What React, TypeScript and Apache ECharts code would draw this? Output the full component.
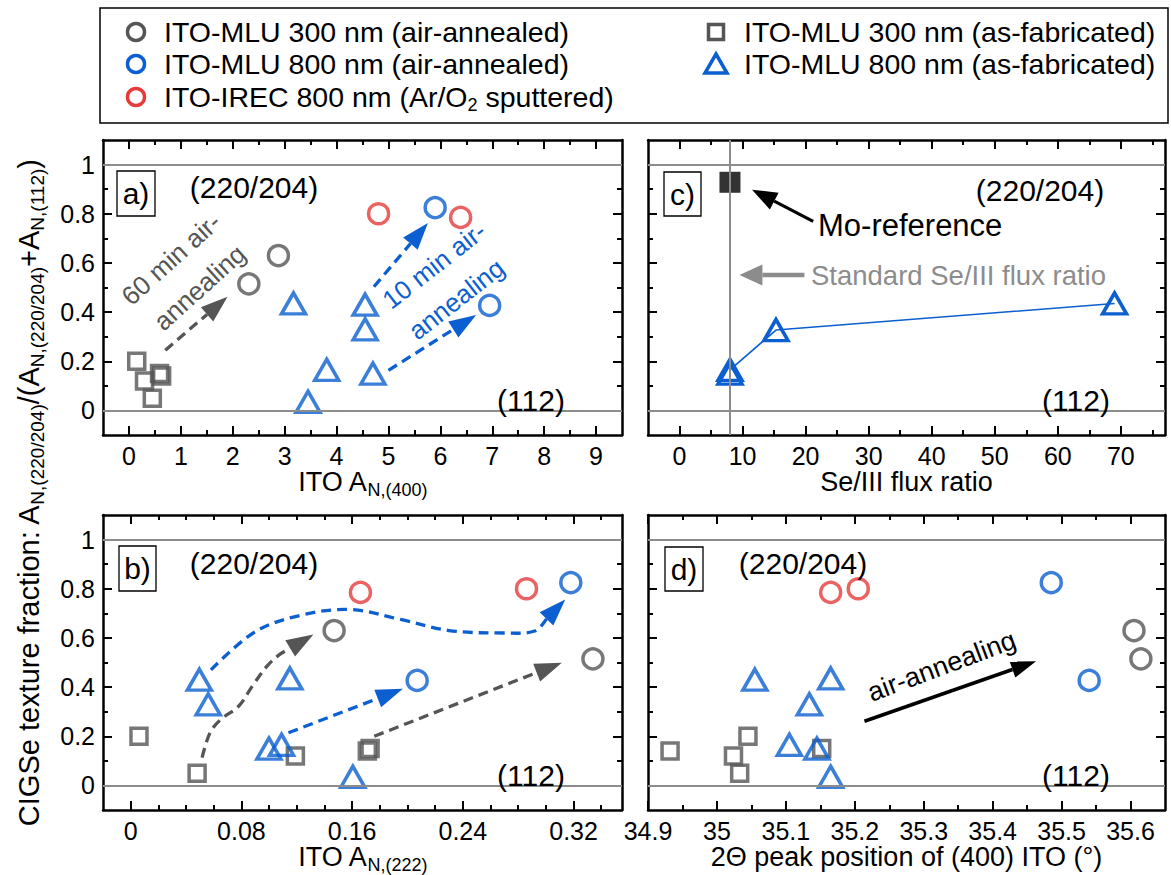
import React, { useEffect, useRef } from "react";
import * as echarts from "echarts";

const FONT = "'Liberation Sans', Arial, Helvetica, sans-serif";
const GRAY = "#555555";
const BLUE = "#0b5fd0";
const RED = "#e63b3b";
const REFGRAY = "#8c8c8c";

// ---------------- data ----------------
// y = CIGSe texture fraction, x per panel: A_N,(400) | A_N,(222) | 2Theta (400) ITO
const mlu300AnnealedFraction = [0.515, 0.63];
const mlu300AnnealedA400 = [2.31, 2.88];
const mlu300AnnealedA222 = [0.334, 0.147];
const mlu300AnnealedPeak = [35.615, 35.605];

const mlu800AnnealedFraction = [0.825, 0.427];
const mlu800AnnealedA400 = [5.9, 6.95];
const mlu800AnnealedA222 = [0.318, 0.207];
const mlu800AnnealedPeak = [35.485, 35.54];

const irecFraction = [0.8, 0.785];
const irecA400 = [4.81, 6.39];
const irecA222 = [0.286, 0.166];
const irecPeak = [35.205, 35.165];

const mlu300FabFraction = [0.2, 0.12, 0.05, 0.15, 0.14];
const mlu300FabA400 = [0.15, 0.3, 0.45, 0.59, 0.63];
const mlu300FabA222 = [0.006, 0.119, 0.048, 0.173, 0.171];
const mlu300FabPeak = [35.045, 35.024, 35.033, 35.152, 34.932];

const mlu800FabFraction = [0.435, 0.43, 0.33, 0.165, 0.15, 0.035];
const mlu800FabA400 = [3.17, 4.55, 4.55, 3.81, 4.7, 3.45];
const mlu800FabA222 = [0.115, 0.0496, 0.056, 0.109, 0.0999, 0.1605];
const mlu800FabPeak = [35.165, 35.055, 35.134, 35.105, 35.145, 35.165];

// panel c
const fluxRatio = [8, 8, 15.3, 69];
const fluxFraction = [0.15, 0.165, 0.327, 0.435];
const moRefFlux = [8];
const moRefFraction = [0.928];
const standardFlux = 8;
const refFractions = [0, 1];

// axis ranges and ticks
const fractionRange = [-0.1, 1.1];
const a400Range = [-0.5, 9.5];
const a222Range = [-0.02, 0.355];
const fluxRange = [-5, 77];
const peakRange = [34.9, 35.65];

const yMajor = [0, 0.2, 0.4, 0.6, 0.8, 1];
const yMinor = [0.1, 0.3, 0.5, 0.7, 0.9];
const a400Major = [0, 1, 2, 3, 4, 5, 6, 7, 8, 9];
const a400Minor = [0.5, 1.5, 2.5, 3.5, 4.5, 5.5, 6.5, 7.5, 8.5];
const a222Major = [0, 0.08, 0.16, 0.24, 0.32];
const a222Minor = [0.02, 0.04, 0.06, 0.1, 0.12, 0.14, 0.18, 0.2, 0.22, 0.26, 0.28, 0.3, 0.34];
const fluxMajor = [0, 10, 20, 30, 40, 50, 60, 70];
const fluxMinor = [5, 15, 25, 35, 45, 55, 65, 75];
const peakMajor = [34.9, 35, 35.1, 35.2, 35.3, 35.4, 35.5, 35.6];
const peakMinor = [34.95, 35.05, 35.15, 35.25, 35.35, 35.45, 35.55];

// annotation arrows (data coordinates, last point = tip)
const arrowA60 = [[0.7, 0.245], [1.9, 0.462]];
const arrowA10Upper = [[4.72, 0.503], [5.76, 0.762]];
const arrowA10Lower = [[5.0, 0.163], [6.69, 0.388]];
const curveBBlue = [[0.058, 0.47], [0.09, 0.625], [0.125, 0.695], [0.16, 0.715], [0.195, 0.675], [0.23, 0.63], [0.27, 0.62], [0.292, 0.628], [0.314, 0.756]];
const curveBGray = [[0.0516, 0.113], [0.0573, 0.214], [0.065, 0.268], [0.078, 0.322], [0.088, 0.405], [0.0985, 0.485], [0.107, 0.53], [0.132, 0.614]];
const arrowBBlue = [[0.114, 0.214], [0.1967, 0.393]];
const arrowBGray = [[0.176, 0.2], [0.3115, 0.499]];
const arrowMoRef = [[21.2, 0.769], [11.5, 0.898]];
const arrowStandard = [[19.8, 0.551], [9.5, 0.551]];
const arrowAnnealD = [[35.214, 0.261], [35.463, 0.505]];

const seriesNames = [
  "ITO-MLU 300 nm (air-annealed)",
  "ITO-MLU 800 nm (air-annealed)",
  "ITO-IREC 800 nm (Ar/O2 sputtered)",
  "ITO-MLU 300 nm (as-fabricated)",
  "ITO-MLU 800 nm (as-fabricated)",
];
const legendTexts = [
  "ITO-MLU 300 nm (air-annealed)",
  "ITO-MLU 800 nm (air-annealed)",
  "ITO-IREC 800 nm (Ar/O{s|2} sputtered)",
  "ITO-MLU 300 nm (as-fabricated)",
  "ITO-MLU 800 nm (as-fabricated)",
];

// ---------------- layout ----------------
const grids = [
  { left: 103, top: 140, width: 519, height: 295 }, // a
  { left: 103, top: 515, width: 519, height: 295 }, // b
  { left: 648, top: 140, width: 517, height: 295 }, // c
  { left: 648, top: 515, width: 517, height: 295 }, // d
];

const TICK_FS = 25;
const lineStyleBlack = { color: "#000", width: 2.5 };
const tickStyle = { color: "#000", width: 2 };
const subRich = { s: { fontSize: 18, fontFamily: FONT, padding: [16, 0, 0, 0] } };
const subRichBig = { s: { fontSize: 19, fontFamily: FONT, padding: [17, 0, 0, 0] } };

function xAxes(g: number, range: number[], major: number[], minor: number[], fmt: (v: number) => string, name: string) {
  const base = { type: "value", gridIndex: g, min: range[0], max: range[1], splitLine: { show: false } };
  return [
    {
      ...base,
      position: "bottom",
      axisLine: { show: true, onZero: false, lineStyle: lineStyleBlack },
      axisTick: { show: true, inside: true, length: 9, customValues: major, lineStyle: tickStyle },
      axisLabel: { show: true, customValues: major, formatter: fmt, fontSize: TICK_FS, fontFamily: FONT, color: "#000", margin: 8 },
      name,
      nameLocation: "middle",
      nameGap: 30,
      nameTextStyle: { fontSize: 27, fontFamily: FONT, color: "#000", rich: subRich },
    },
    {
      ...base,
      position: "top",
      axisLine: { show: true, onZero: false, lineStyle: lineStyleBlack },
      axisTick: { show: true, inside: true, length: 9, customValues: major, lineStyle: tickStyle },
      axisLabel: { show: false },
    },
    {
      ...base,
      position: "bottom",
      axisLine: { show: false, onZero: false },
      axisTick: { show: true, inside: true, length: 5, customValues: minor, lineStyle: tickStyle },
      axisLabel: { show: false },
    },
    {
      ...base,
      position: "top",
      axisLine: { show: false, onZero: false },
      axisTick: { show: true, inside: true, length: 5, customValues: minor, lineStyle: tickStyle },
      axisLabel: { show: false },
    },
  ];
}

function yAxes(g: number, labels: boolean) {
  const base = { type: "value", gridIndex: g, min: fractionRange[0], max: fractionRange[1], splitLine: { show: false } };
  return [
    {
      ...base,
      position: "left",
      axisLine: { show: true, onZero: false, lineStyle: lineStyleBlack },
      axisTick: { show: true, inside: true, length: 9, customValues: yMajor, lineStyle: tickStyle },
      axisLabel: { show: labels, customValues: yMajor, formatter: (v: number) => String(v), fontSize: TICK_FS, fontFamily: FONT, color: "#000", margin: 8 },
    },
    {
      ...base,
      position: "right",
      axisLine: { show: true, onZero: false, lineStyle: lineStyleBlack },
      axisTick: { show: true, inside: true, length: 9, customValues: yMajor, lineStyle: tickStyle },
      axisLabel: { show: false },
    },
    {
      ...base,
      position: "left",
      axisLine: { show: false, onZero: false },
      axisTick: { show: true, inside: true, length: 5, customValues: yMinor, lineStyle: tickStyle },
      axisLabel: { show: false },
    },
    {
      ...base,
      position: "right",
      axisLine: { show: false, onZero: false },
      axisTick: { show: true, inside: true, length: 5, customValues: yMinor, lineStyle: tickStyle },
      axisLabel: { show: false },
    },
  ];
}

const zip = (xs: number[], ys: number[]) => xs.map((x, i) => [x, ys[i]]);

type Kind = "circle" | "rect" | "triangle";
function marker(kind: Kind, color: string) {
  const size = kind === "circle" ? 20 : kind === "rect" ? 16 : [24, 21];
  return {
    symbol: kind,
    symbolSize: size,
    itemStyle: { color: "rgba(0,0,0,0)", borderColor: color, borderWidth: 3.5 },
  };
}

function scatter(g: number, name: string, data: number[][], kind: Kind, color: string) {
  return {
    type: "scatter",
    name,
    xAxisIndex: 4 * g,
    yAxisIndex: 4 * g,
    data,
    silent: true,
    z: 3,
    ...marker(kind, color),
  };
}

function refLineSeries(g: number, extraX?: number) {
  const data: any[] = refFractions.map((v) => ({ yAxis: v }));
  if (extraX !== undefined) data.push({ xAxis: extraX });
  return {
    type: "line",
    xAxisIndex: 4 * g,
    yAxisIndex: 4 * g,
    data: [],
    z: 1,
    silent: true,
    markLine: {
      silent: true,
      symbol: ["none", "none"],
      label: { show: false },
      lineStyle: { color: REFGRAY, width: 2, type: "solid" },
      data,
    },
  };
}

function panelSeries(g: number, a300: number[], a800: number[], irec: number[], f300: number[], f800: number[]) {
  return [
    refLineSeries(g),
    scatter(g, seriesNames[3], zip(f300, mlu300FabFraction), "rect", GRAY),
    scatter(g, seriesNames[4], zip(f800, mlu800FabFraction), "triangle", BLUE),
    scatter(g, seriesNames[0], zip(a300, mlu300AnnealedFraction), "circle", GRAY),
    scatter(g, seriesNames[1], zip(a800, mlu800AnnealedFraction), "circle", BLUE),
    scatter(g, seriesNames[2], zip(irec, irecFraction), "circle", RED),
  ];
}

function buildOption() {
  const xAxis = [
    ...xAxes(0, a400Range, a400Major, a400Minor, (v) => String(v), "ITO A{s|N,(400)}"),
    ...xAxes(1, a222Range, a222Major, a222Minor, (v) => String(v), "ITO A{s|N,(222)}"),
    ...xAxes(2, fluxRange, fluxMajor, fluxMinor, (v) => String(v), "Se/III flux ratio"),
    ...xAxes(3, peakRange, peakMajor, peakMinor, (v) => String(Math.round(v * 10) / 10), "2Θ peak position of (400) ITO (°)"),
  ];
  const yAxis = [...yAxes(0, true), ...yAxes(1, true), ...yAxes(2, false), ...yAxes(3, false)];
  const series = [
    ...panelSeries(0, mlu300AnnealedA400, mlu800AnnealedA400, irecA400, mlu300FabA400, mlu800FabA400),
    ...panelSeries(1, mlu300AnnealedA222, mlu800AnnealedA222, irecA222, mlu300FabA222, mlu800FabA222),
    ...panelSeries(3, mlu300AnnealedPeak, mlu800AnnealedPeak, irecPeak, mlu300FabPeak, mlu800FabPeak),
    refLineSeries(2, standardFlux),
    {
      type: "line",
      name: seriesNames[4],
      xAxisIndex: 8,
      yAxisIndex: 8,
      data: zip(fluxRatio, fluxFraction),
      silent: true,
      z: 3,
      lineStyle: { color: BLUE, width: 1.6 },
      ...marker("triangle", BLUE),
    },
    {
      type: "scatter",
      name: "Mo-reference",
      xAxisIndex: 8,
      yAxisIndex: 8,
      data: zip(moRefFlux, moRefFraction),
      silent: true,
      z: 3,
      symbol: "rect",
      symbolSize: 21,
      itemStyle: { color: "#000" },
    },
  ];
  return {
    animation: false,
    backgroundColor: "#fff",
    textStyle: { fontFamily: FONT },
    grid: grids.map((g) => ({ ...g, containLabel: false, outerBoundsMode: "none" })),
    xAxis,
    yAxis,
    series,
  };
}

function buildGraphics(chart: any) {
  const px = (g: number, p: number[]) => chart.convertToPixel({ xAxisIndex: 4 * g, yAxisIndex: 4 * g }, p) as number[];
  const out: any[] = [];

  const arrow = (g: number, pts: number[][], color: string, dashed: boolean, width: number, headLen: number, headW: number, smooth = 0) => {
    const p = pts.map((q) => px(g, q));
    const tip = p[p.length - 1];
    const prev = p[p.length - 2];
    const dx = tip[0] - prev[0];
    const dy = tip[1] - prev[1];
    const L = Math.hypot(dx, dy);
    const ux = dx / L;
    const uy = dy / L;
    const base = [tip[0] - ux * headLen, tip[1] - uy * headLen];
    const linePts = [...p.slice(0, -1), base];
    out.push({
      type: "polyline",
      silent: true,
      z: 10,
      shape: { points: linePts, smooth },
      style: { stroke: color, lineWidth: width, lineDash: dashed ? [10, 6] : null, fill: null },
    });
    out.push({
      type: "polygon",
      silent: true,
      z: 10,
      shape: {
        points: [tip, [base[0] - uy * headW, base[1] + ux * headW], [base[0] + uy * headW, base[1] - ux * headW]],
      },
      style: { fill: color, stroke: null },
    });
  };

  arrow(0, arrowA60, GRAY, true, 3.3, 27, 9.5);
  arrow(0, arrowA10Upper, BLUE, true, 3.3, 27, 9.5);
  arrow(0, arrowA10Lower, BLUE, true, 3.3, 27, 9.5);
  arrow(1, curveBBlue, BLUE, true, 3.3, 27, 9.5, 0.35);
  arrow(1, curveBGray, GRAY, true, 3.3, 27, 9.5, 0.35);
  arrow(1, arrowBBlue, BLUE, true, 3.3, 27, 9.5);
  arrow(1, arrowBGray, GRAY, true, 3.3, 27, 9.5);
  arrow(2, arrowMoRef, "#000", false, 3.2, 25, 9.5);
  arrow(2, arrowStandard, REFGRAY, false, 4.5, 23, 10.5);
  arrow(3, arrowAnnealD, "#000", false, 3.5, 25, 8.5);

  const rotText = (g: number, at: number[], text: string, color: string, deg: number, fs: number) => {
    const p = px(g, at);
    out.push({
      type: "text",
      silent: true,
      z: 11,
      x: p[0],
      y: p[1],
      rotation: (deg * Math.PI) / 180,
      style: { text, fill: color, fontSize: fs, fontFamily: FONT, align: "center", verticalAlign: "middle" },
    });
  };
  rotText(0, [0.81, 0.616], "60 min air-", GRAY, 42, 26);
  rotText(0, [1.36, 0.5], "annealing", GRAY, 42, 26);
  rotText(0, [5.88, 0.59], "10 min air-", BLUE, 38, 26);
  rotText(0, [6.31, 0.452], "annealing", BLUE, 38, 26);
  rotText(3, [35.326, 0.485], "air-annealing", "#000", 20.5, 27);

  const text = (x: number, y: number, t: string, fs: number, color = "#000", align = "center") => {
    out.push({
      type: "text",
      silent: true,
      z: 11,
      x,
      y,
      style: { text: t, fill: color, fontSize: fs, fontFamily: FONT, align, verticalAlign: "middle" },
    });
  };
  // panel labels
  const boxes = [
    { x: 117, y: 171, w: 38, h: 45, t: "a)" },
    { x: 119, y: 546, w: 37, h: 45, t: "b)" },
    { x: 664, y: 172, w: 37, h: 44, t: "c)" },
    { x: 665, y: 547, w: 38, h: 44, t: "d)" },
  ];
  boxes.forEach((b) => {
    out.push({
      type: "rect",
      silent: true,
      z: 11,
      shape: { x: b.x, y: b.y, width: b.w, height: b.h },
      style: { fill: "#fff", stroke: "#000", lineWidth: 1.3 },
    });
    text(b.x + b.w / 2, b.y + b.h / 2, b.t, 30);
  });
  text(254, 187, "(220/204)", 30);
  text(531, 400, "(112)", 30);
  text(1040, 190, "(220/204)", 30);
  text(1076, 400, "(112)", 30);
  text(254, 563, "(220/204)", 30);
  text(531, 775, "(112)", 30);
  text(803, 563, "(220/204)", 30);
  text(1076, 775, "(112)", 30);
  text(818, 225, "Mo-reference", 31, "#000", "left");
  text(811, 275, "Standard Se/III flux ratio", 27.5, REFGRAY, "left");

  // y-axis title
  out.push({
    type: "text",
    silent: true,
    x: 29,
    y: 493,
    rotation: Math.PI / 2,
    style: {
      text: "CIGSe texture fraction: A{s|N,(220/204)}/(A{s|N,(220/204)}+A{s|N,(112)})",
      rich: subRichBig,
      fill: "#000",
      fontSize: 29,
      fontFamily: FONT,
      align: "center",
      verticalAlign: "middle",
    },
  });

  // legend
  out.push({
    type: "rect",
    silent: true,
    shape: { x: 100, y: 8, width: 1068, height: 115 },
    style: { fill: "#fff", stroke: "#000", lineWidth: 1.5 },
  });
  const legendItems = [
    { cx: 136, cy: 32, kind: "circle", color: GRAY, tx: 164, i: 0 },
    { cx: 136, cy: 64, kind: "circle", color: BLUE, tx: 164, i: 1 },
    { cx: 136, cy: 97, kind: "circle", color: RED, tx: 164, i: 2 },
    { cx: 716, cy: 32, kind: "rect", color: GRAY, tx: 744, i: 3 },
    { cx: 716, cy: 64, kind: "triangle", color: BLUE, tx: 744, i: 4 },
  ];
  legendItems.forEach((it) => {
    if (it.kind === "circle") {
      out.push({ type: "circle", silent: true, shape: { cx: it.cx, cy: it.cy, r: 8.5 }, style: { fill: null, stroke: it.color, lineWidth: 3.5 } });
    } else if (it.kind === "rect") {
      out.push({ type: "rect", silent: true, shape: { x: it.cx - 7.5, y: it.cy - 7.5, width: 15, height: 15 }, style: { fill: null, stroke: it.color, lineWidth: 3.5 } });
    } else {
      out.push({
        type: "polygon",
        silent: true,
        shape: { points: [[it.cx, it.cy - 10], [it.cx + 11, it.cy + 9], [it.cx - 11, it.cy + 9]] },
        style: { fill: null, stroke: it.color, lineWidth: 3.5 },
      });
    }
    out.push({
      type: "text",
      silent: true,
      x: it.tx,
      y: it.cy,
      style: { text: legendTexts[it.i], rich: subRich, fill: "#000", fontSize: 28.5, fontFamily: FONT, align: "left", verticalAlign: "middle" },
    });
  });

  return out;
}

export default function App() {
  const ref = useRef<HTMLDivElement>(null);
  useEffect(() => {
    const chart = echarts.init(ref.current as HTMLDivElement, null, { renderer: "svg" });
    chart.setOption(buildOption() as any);
    chart.setOption({ graphic: buildGraphics(chart) } as any);
    return () => chart.dispose();
  }, []);
  return <div ref={ref} style={{ position: "fixed", left: 0, top: 0, width: 1171, height: 875, background: "#fff" }} />;
}
